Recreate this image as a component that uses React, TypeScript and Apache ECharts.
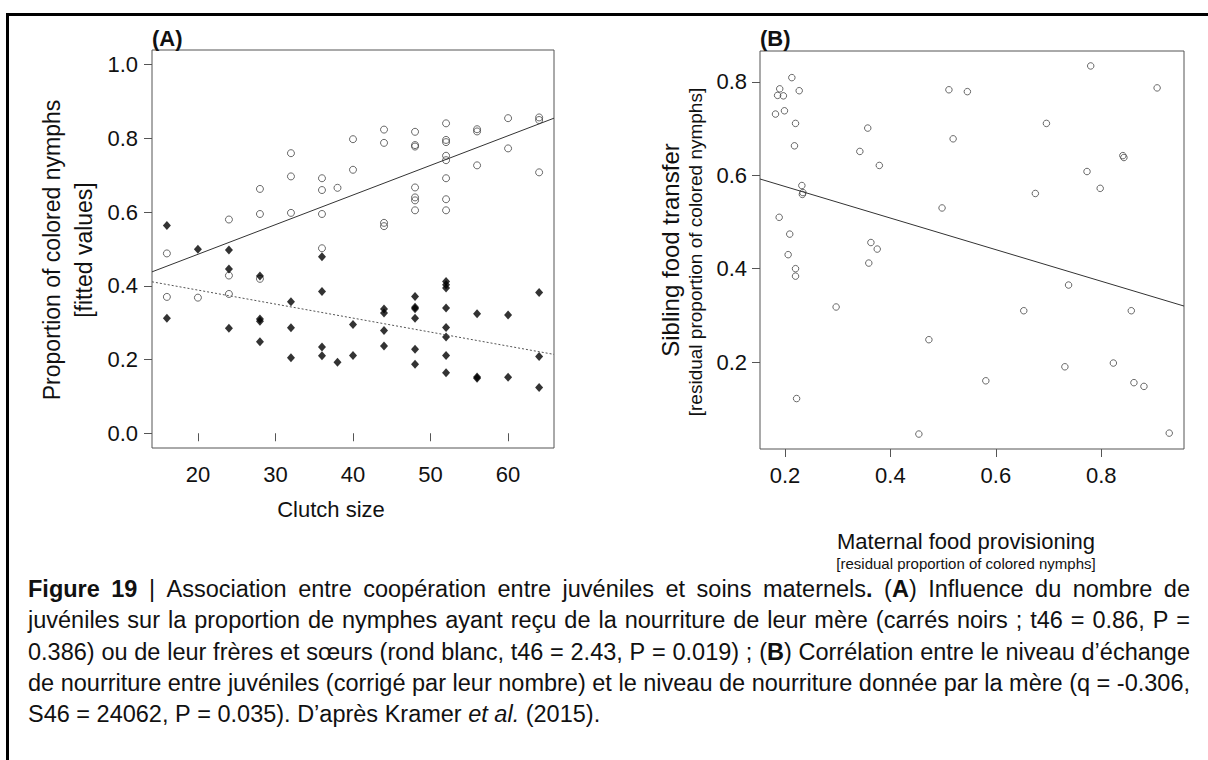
import React, { useEffect, useRef } from 'react';
import * as echarts from 'echarts';

const FONT = '"Liberation Sans", Arial, sans-serif';

// Panel A: clutch size vs proportion of colored nymphs
const clutchTicks = [20, 30, 40, 50, 60];
const propTicks = [0, 0.2, 0.4, 0.6, 0.8, 1.0];
const siblingA: [number, number][] = [
  [16, 0.488], [16, 0.370], [20, 0.368], [24, 0.580], [24, 0.428], [24, 0.378],
  [28, 0.595], [28, 0.663], [28, 0.419], [32, 0.760], [32, 0.697], [32, 0.598],
  [36, 0.692], [36, 0.660], [36, 0.595], [36, 0.502], [38, 0.666], [40, 0.798],
  [40, 0.715], [44, 0.824], [44, 0.788], [44, 0.571], [44, 0.562], [48, 0.818],
  [48, 0.782], [48, 0.778], [48, 0.667], [48, 0.640], [48, 0.632], [48, 0.605],
  [52, 0.841], [52, 0.796], [52, 0.790], [52, 0.753], [52, 0.741], [52, 0.692],
  [52, 0.635], [52, 0.605], [56, 0.825], [56, 0.819], [56, 0.727], [60, 0.855],
  [60, 0.773], [64, 0.857], [64, 0.850], [64, 0.708],
];
const maternalA: [number, number][] = [
  [16, 0.564], [16, 0.312], [20, 0.499], [24, 0.497], [24, 0.446], [24, 0.285],
  [28, 0.427], [28, 0.310], [28, 0.304], [28, 0.248], [32, 0.357], [32, 0.286],
  [32, 0.205], [36, 0.479], [36, 0.385], [36, 0.234], [36, 0.210], [38, 0.193],
  [40, 0.295], [40, 0.211], [44, 0.337], [44, 0.326], [44, 0.279], [44, 0.237],
  [48, 0.371], [48, 0.342], [48, 0.338], [48, 0.312], [48, 0.228], [48, 0.187],
  [52, 0.412], [52, 0.403], [52, 0.394], [52, 0.340], [52, 0.287], [52, 0.261],
  [52, 0.211], [52, 0.164], [56, 0.324], [56, 0.153], [56, 0.149], [60, 0.321],
  [60, 0.152], [64, 0.382], [64, 0.208], [64, 0.124],
];
const fitSiblingA: [number, number][] = [[14.08, 0.438], [65.92, 0.855]];
const fitMaternalA: [number, number][] = [[14.08, 0.411], [65.92, 0.214]];

// Panel B: maternal provisioning vs sibling transfer
const maternalTicksB = [0.2, 0.4, 0.6, 0.8];
const siblingTicksB = [0.2, 0.4, 0.6, 0.8];
const pointsB: [number, number][] = [
  [0.213, 0.809], [0.190, 0.785], [0.186, 0.771], [0.197, 0.770], [0.227, 0.781],
  [0.182, 0.731], [0.199, 0.738], [0.220, 0.711], [0.218, 0.663], [0.357, 0.701],
  [0.342, 0.651], [0.379, 0.621], [0.511, 0.783], [0.546, 0.779], [0.519, 0.678],
  [0.232, 0.578], [0.234, 0.563], [0.233, 0.559], [0.189, 0.510], [0.209, 0.474],
  [0.498, 0.530], [0.363, 0.456], [0.375, 0.442], [0.206, 0.430], [0.359, 0.412],
  [0.220, 0.400], [0.220, 0.384], [0.297, 0.318], [0.473, 0.248], [0.222, 0.122],
  [0.454, 0.046], [0.780, 0.834], [0.906, 0.787], [0.696, 0.711], [0.841, 0.642],
  [0.843, 0.638], [0.773, 0.608], [0.798, 0.572], [0.675, 0.561], [0.738, 0.365],
  [0.653, 0.310], [0.857, 0.310], [0.731, 0.190], [0.823, 0.198], [0.862, 0.156],
  [0.881, 0.148], [0.581, 0.160], [0.929, 0.048],
];
const fitB: [number, number][] = [[0.1526, 0.592], [0.957, 0.320]];

type Seg = [string, 'n' | 'b' | 'i'];
const captionLines: Seg[][] = [
  [['Figure 19', 'b'], [' | Association entre coopération entre juvéniles et soins maternels', 'n'], ['.', 'b'], [' (', 'n'], ['A', 'b'], [') Influence du nombre de', 'n']],
  [['juvéniles sur la proportion de nymphes ayant reçu de la nourriture de leur mère (carrés noirs ; t46 = 0.86, P =', 'n']],
  [['0.386) ou de leur frères et sœurs (rond blanc, t46 = 2.43, P = 0.019) ; (', 'n'], ['B', 'b'], [') Corrélation entre le niveau d’échange', 'n']],
  [['de nourriture entre juvéniles (corrigé par leur nombre) et le niveau de nourriture donnée par la mère (q = -0.306,', 'n']],
  [['S46 = 24062, P = 0.035). D’après Kramer ', 'n'], ['et al.', 'i'], [' (2015).', 'n']],
];

const CAP_SIZE = 23.5;
const CAP_LEFT = 28;
const CAP_RIGHT = 1190;
const CAP_Y0 = 589;
const CAP_DY = 31.3;

function buildCaption(): any[] {
  const ctx = document.createElement('canvas').getContext('2d')!;
  const fontOf = (st: string) =>
    `${st === 'i' ? 'italic ' : ''}${st === 'b' ? 'bold ' : ''}${CAP_SIZE}px "Liberation Sans"`;
  const measure = (t: string, st: string) => {
    ctx.font = fontOf(st);
    return ctx.measureText(t).width;
  };
  const els: any[] = [];
  captionLines.forEach((line, li) => {
    const words: Seg[][] = [[]];
    line.forEach(([t, st]) => {
      t.split(' ').forEach((p, k) => {
        if (k > 0) words.push([]);
        if (p) words[words.length - 1].push([p, st]);
      });
    });
    const ws = words.filter((w) => w.length > 0);
    const widths = ws.map((w) => w.reduce((s, [t, st]) => s + measure(t, st), 0));
    const total = widths.reduce((a, b) => a + b, 0);
    const justify = li < captionLines.length - 1;
    const gap = justify ? (CAP_RIGHT - CAP_LEFT - total) / (ws.length - 1) : measure(' ', 'n');
    let x = CAP_LEFT;
    const y = CAP_Y0 + li * CAP_DY;
    ws.forEach((w, i) => {
      let sx = x;
      w.forEach(([t, st]) => {
        els.push({
          type: 'text',
          x: sx,
          y,
          silent: true,
          style: {
            text: t,
            fontFamily: FONT,
            fontSize: CAP_SIZE,
            fontWeight: st === 'b' ? 'bold' : 'normal',
            fontStyle: st === 'i' ? 'italic' : 'normal',
            fill: '#111',
            align: 'left',
            verticalAlign: 'middle',
          },
        });
        sx += measure(t, st);
      });
      x += widths[i] + gap;
    });
  });
  return els;
}

const label = (text: string, x: number, y: number, size: number, rotate = false, bold = false) => ({
  type: 'text',
  x,
  y,
  rotation: rotate ? Math.PI / 2 : 0,
  silent: true,
  style: {
    text,
    fontFamily: FONT,
    fontSize: size,
    fontWeight: bold ? 'bold' : 'normal',
    fill: '#111',
    align: 'center',
    verticalAlign: 'middle',
  },
});

export default function App() {
  const ref = useRef<HTMLDivElement>(null);
  useEffect(() => {
    const chart = echarts.init(ref.current!, null, { renderer: 'svg' });
    const axisLabelBase = { fontFamily: FONT, fontSize: 22, color: '#111' };
    const tickStyle = { color: '#555', width: 1 };
    const option: any = {
      animation: false,
      backgroundColor: '#fff',
      grid: [
        { left: 152, top: 50, width: 402, height: 398, show: true, borderColor: '#555', borderWidth: 1 },
        { left: 760, top: 51, width: 424, height: 398, show: true, borderColor: '#555', borderWidth: 1 },
      ],
      xAxis: [
        {
          gridIndex: 0, type: 'value', min: 14.08, max: 65.92,
          axisLine: { show: false },
          axisTick: { show: true, length: 8, customValues: clutchTicks, lineStyle: tickStyle },
          axisLabel: { ...axisLabelBase, margin: 15, customValues: clutchTicks, formatter: (v: number) => String(v) },
          splitLine: { show: false },
        },
        {
          gridIndex: 1, type: 'value', min: 0.1526, max: 0.957,
          axisLine: { show: false },
          axisTick: { show: true, length: 8, customValues: maternalTicksB, lineStyle: tickStyle },
          axisLabel: { ...axisLabelBase, margin: 15, customValues: maternalTicksB, formatter: (v: number) => v.toFixed(1) },
          splitLine: { show: false },
        },
      ],
      yAxis: [
        {
          gridIndex: 0, type: 'value', min: -0.04, max: 1.04,
          axisLine: { show: false },
          axisTick: { show: true, length: 8, customValues: propTicks, lineStyle: tickStyle },
          axisLabel: { ...axisLabelBase, margin: 14, customValues: propTicks, formatter: (v: number) => v.toFixed(1) },
          splitLine: { show: false },
        },
        {
          gridIndex: 1, type: 'value', min: 0.014, max: 0.866,
          axisLine: { show: false },
          axisTick: { show: true, length: 8, customValues: siblingTicksB, lineStyle: tickStyle },
          axisLabel: { ...axisLabelBase, margin: 13, customValues: siblingTicksB, formatter: (v: number) => v.toFixed(1) },
          splitLine: { show: false },
        },
      ],
      series: [
        {
          type: 'line', xAxisIndex: 0, yAxisIndex: 0, data: fitSiblingA, showSymbol: false, silent: true,
          lineStyle: { color: '#333', width: 1 },
        },
        {
          type: 'line', xAxisIndex: 0, yAxisIndex: 0, data: fitMaternalA, showSymbol: false, silent: true,
          lineStyle: { color: '#555', width: 1, type: [2, 2] },
        },
        {
          type: 'scatter', xAxisIndex: 0, yAxisIndex: 0, data: siblingA, symbol: 'circle', symbolSize: 7,
          itemStyle: { color: 'rgba(0,0,0,0)', borderColor: '#444', borderWidth: 1 },
        },
        {
          type: 'scatter', xAxisIndex: 0, yAxisIndex: 0, data: maternalA, symbol: 'diamond', symbolSize: [8, 9],
          itemStyle: { color: '#000' },
        },
        {
          type: 'line', xAxisIndex: 1, yAxisIndex: 1, data: fitB, showSymbol: false, silent: true,
          lineStyle: { color: '#333', width: 1 },
        },
        {
          type: 'scatter', xAxisIndex: 1, yAxisIndex: 1, data: pointsB, symbol: 'circle', symbolSize: 6.5,
          itemStyle: { color: 'rgba(0,0,0,0)', borderColor: '#444', borderWidth: 1 },
        },
      ],
      graphic: [
        { type: 'line', silent: true, shape: { x1: 6, y1: 14.5, x2: 1208, y2: 14.5 }, style: { stroke: '#000', lineWidth: 3 } },
        { type: 'line', silent: true, shape: { x1: 7.5, y1: 13, x2: 7.5, y2: 760 }, style: { stroke: '#000', lineWidth: 3 } },
        { type: 'text', x: 152, y: 38, silent: true, style: { text: '(A)', fontFamily: FONT, fontSize: 22, fontWeight: 'bold', fill: '#111', align: 'left', verticalAlign: 'middle' } },
        { type: 'text', x: 760, y: 38, silent: true, style: { text: '(B)', fontFamily: FONT, fontSize: 22, fontWeight: 'bold', fill: '#111', align: 'left', verticalAlign: 'middle' } },
        label('Clutch size', 331, 509, 22),
        label('Maternal food provisioning', 966, 541, 22),
        label('[residual proportion of colored nymphs]', 966, 563, 15),
        label('Proportion of colored nymphs', 52, 250, 23, true),
        label('[fitted values]', 84, 250, 23, true),
        label('Sibling food transfer', 670, 250, 24, true),
        label('[residual proportion of colored nymphs]', 695, 252, 19, true),
        ...buildCaption(),
      ],
    };
    chart.setOption(option);
    return () => chart.dispose();
  }, []);
  return (
    <div
      ref={ref}
      style={{ position: 'fixed', left: 0, top: 0, width: 1208, height: 760, background: '#fff' }}
    />
  );
}
